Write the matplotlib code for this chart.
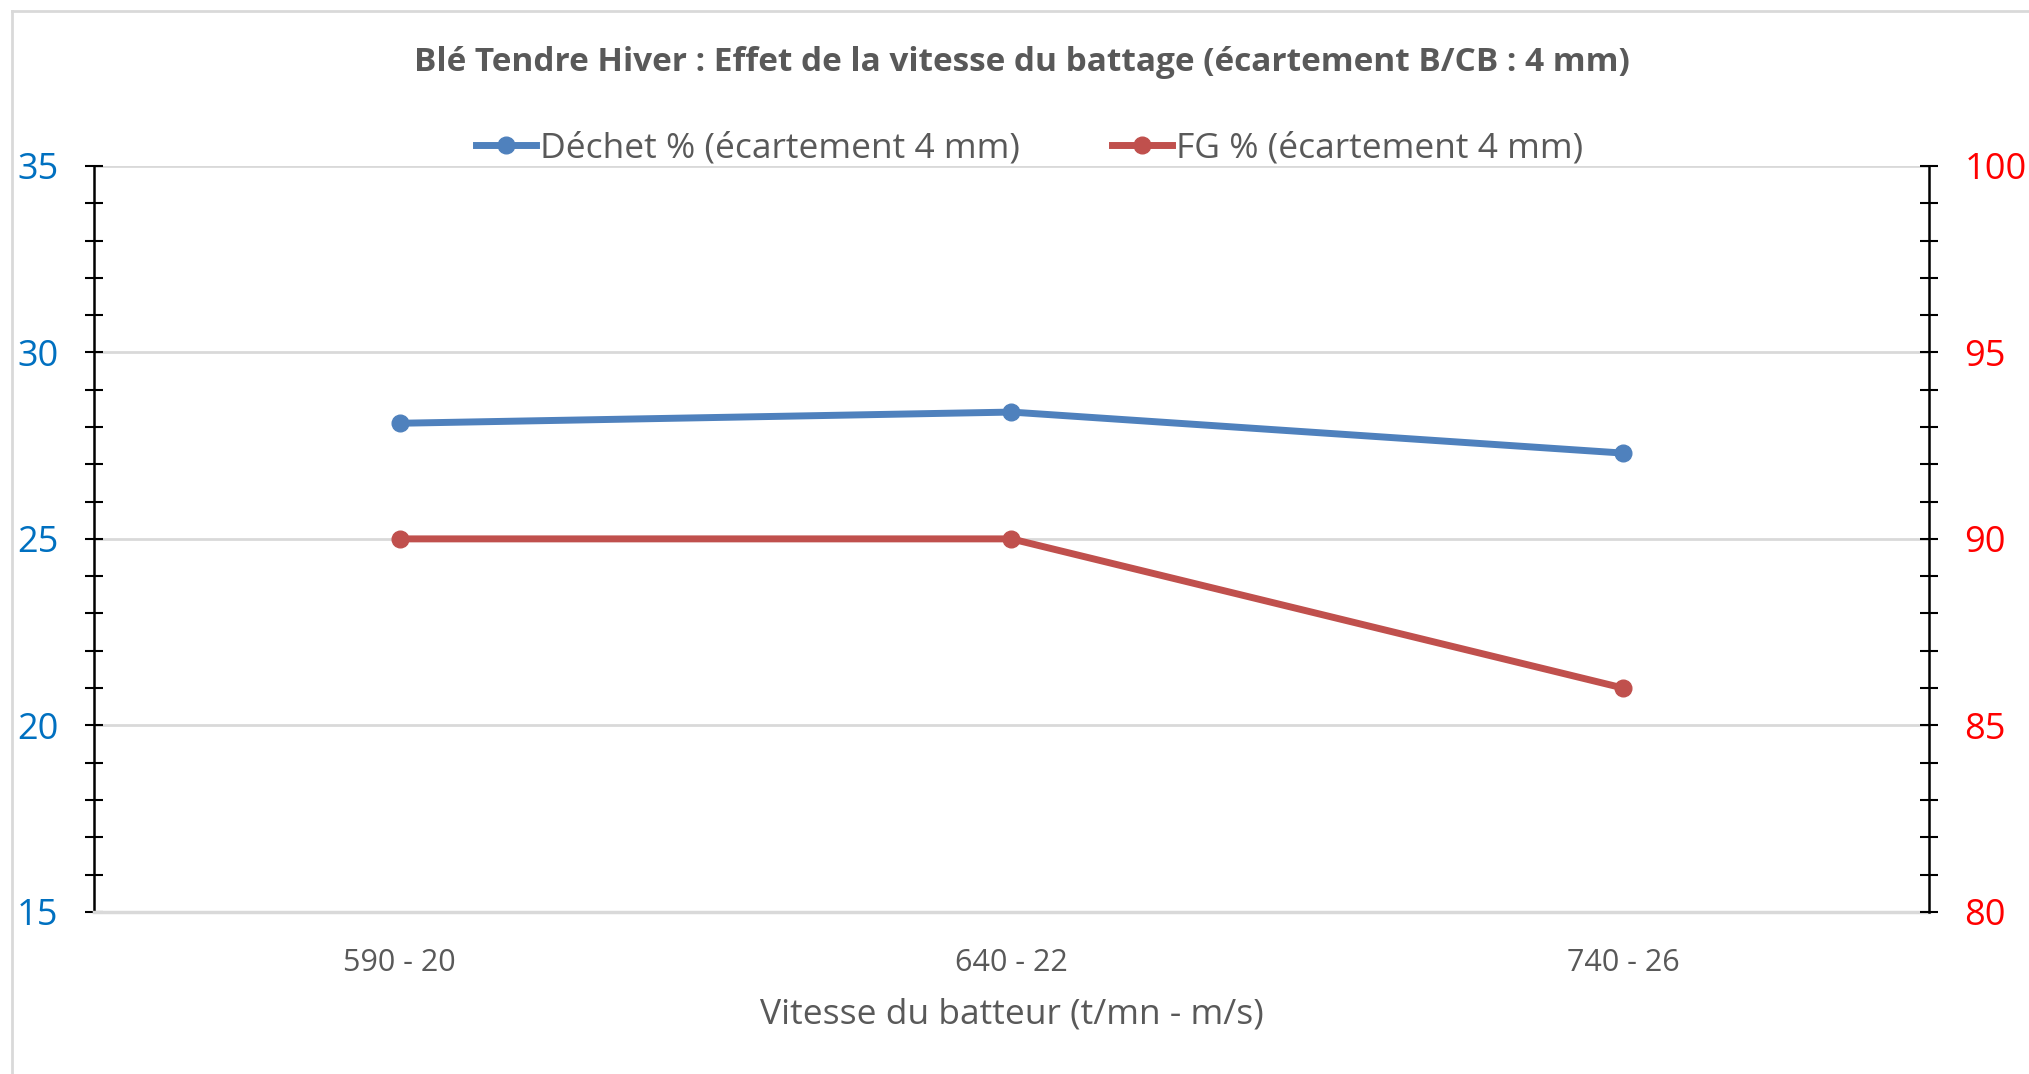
import matplotlib.pyplot as plt
from matplotlib.ticker import MultipleLocator
import numpy as np

plt.rcParams['font.family'] = ['Open Sans', 'DejaVu Sans']

# data
categories = ['590 - 20', '640 - 22', '740 - 26']
dechet = [28.1, 28.4, 27.3]
fg = [90, 90, 86]

blue = '#4F81BD'
red = '#C0504D'
grey_txt = '#595959'

fig = plt.figure(figsize=(20.29, 10.74), dpi=100)
ax = fig.add_axes([0.0463, 0.151, 0.9044, 0.6945])
ax2 = ax.twinx()

x = np.arange(len(categories))
l1, = ax.plot(x, dechet, color=blue, lw=5, marker='o', ms=12, label='Déchet % (écartement 4 mm)')
l2, = ax2.plot(x, fg, color=red, lw=5, marker='o', ms=12, label='FG % (écartement 4 mm)')

ax.set_xlim(-0.5, len(categories) - 0.5)
ax.set_ylim(15, 35)
ax2.set_ylim(80, 100)
ax.yaxis.set_major_locator(MultipleLocator(5))
ax.yaxis.set_minor_locator(MultipleLocator(1))
ax2.yaxis.set_major_locator(MultipleLocator(5))
ax2.yaxis.set_minor_locator(MultipleLocator(1))

ax.set_xticks(x)
ax.set_xticklabels(categories, fontsize=22, color=grey_txt)
ax.tick_params(axis='x', length=0, pad=26)
ax.grid(axis='y', color='#D9D9D9', lw=2)
ax.set_axisbelow(True)

for a, col in ((ax, '#0070C0'), (ax2, '#FF0000')):
    a.tick_params(axis='y', which='both', direction='inout', length=13, width=1.5,
                  color='black', labelcolor=col, labelsize=26, pad=19)
    for s in a.spines.values():
        s.set_visible(False)

ax.spines['left'].set_visible(True)
ax.spines['left'].set_linewidth(1.8)
ax.spines['left'].set_color('black')
ax2.spines['right'].set_visible(True)
ax2.spines['right'].set_linewidth(1.8)
ax2.spines['right'].set_color('black')
ax.spines['bottom'].set_visible(True)
ax.spines['bottom'].set_color('#D9D9D9')
ax.spines['bottom'].set_linewidth(2.5)

ax.set_xlabel('Vitesse du batteur (t/mn - m/s)', fontsize=25.5, color=grey_txt, labelpad=14)

fig.text(0.5036, 0.942, 'Blé Tendre Hiver : Effet de la vitesse du battage (écartement B/CB : 4 mm)',
         ha='center', va='center', fontsize=24, fontweight='bold', color=grey_txt)

fig.legend(handles=[l1, l2], loc='center', bbox_to_anchor=(0.5074, 0.862), ncol=2,
           frameon=False, fontsize=25.5, handlelength=1.7, handletextpad=0.1,
           columnspacing=2.6, labelcolor=grey_txt)

# chart area border (top and left visible)
fig.add_artist(plt.Line2D([0.006, 1.0], [0.99, 0.99], color='#D9D9D9', lw=2, transform=fig.transFigure))
fig.add_artist(plt.Line2D([0.006, 0.006], [0.0, 0.99], color='#D9D9D9', lw=2, transform=fig.transFigure))

fig.savefig('out.png', dpi=100)
